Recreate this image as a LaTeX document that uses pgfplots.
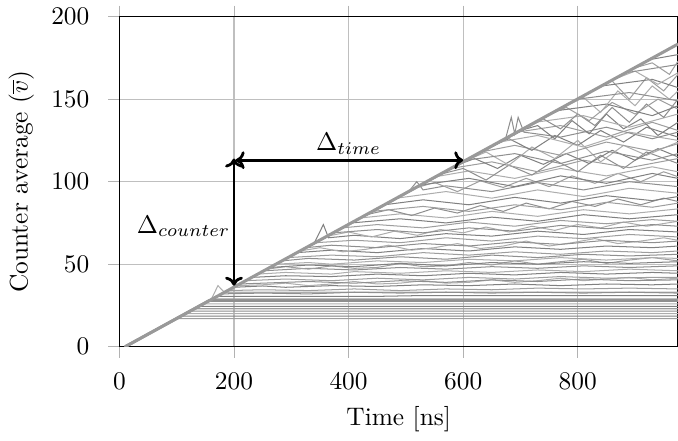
\documentclass[border=0pt]{standalone}
\usepackage{pgfplots}
\pgfplotsset{compat=1.18}
\usetikzlibrary{arrows.meta}
\begin{document}
\begin{tikzpicture}[trim axis right]
\begin{axis}[
  scale only axis,
  width=220pt, height=130pt,
  xmin=0, xmax=975, ymin=0, ymax=200,
  xtick={0,200,...,800}, ytick={0,50,...,200},
  grid=major,
  grid style={black!25, line width=0.4pt},
  tick align=outside,
  major tick length=4.3pt,
  tick style={black!30},
  xticklabel style={yshift=-2.5pt},
  yticklabel style={xshift=-4pt},
  axis line style={black, line width=0.5pt},
  xlabel={Time [ns]},
  ylabel={Counter average ($\overline{v}$)},
  no markers,
  cycle list={{black!38, line width=0.4pt},{black!50, line width=0.4pt},{black!32, line width=0.4pt},{black!44, line width=0.4pt}},
]
% low, almost flat counters
\addplot coordinates {(10,0)(99.5,17)(975,17)};
\addplot coordinates {(10,0)(107,18.5)(975,18.5)};
\addplot coordinates {(10,0)(115,20)(975,20)};
\addplot coordinates {(10,0)(123,21.5)(975,21.5)};
\addplot coordinates {(10,0)(131,23)(975,23)};
\addplot coordinates {(10,0)(139,24.5)(975,24.5)};
\addplot coordinates {(10,0)(147,26)(975,26)};
\addplot+[line width=1.1pt] coordinates {(10,0)(157,28)(975,28)};
\addplot coordinates {(10,0)(162.6,29)(975,29)};
\addplot coordinates {(10,0)(170,30.5)(450,30.5)(530,31)(975,31)};
\addplot coordinates {(10,0)(160,28.5)(172,37)(183,33)(975,33)};
% medium counters
\addplot coordinates {(10,0)(178,32)(250,32.5)(330,32)(410,33)(490,32.5)(570,33)(650,32.5)(730,33)(810,32.5)(890,33)(975,32.5)};
\addplot coordinates {(10,0)(189,34)(250,34.5)(330,34)(410,35)(490,34)(570,35)(650,34.5)(730,35.5)(810,35)(890,35.5)(975,35)};
\addplot coordinates {(10,0)(199,36)(250,36.8)(290,36)(370,37)(450,36.5)(530,37.5)(610,37)(690,38)(770,37)(850,38)(930,37.5)(975,38)};
\addplot coordinates {(10,0)(205,37)(250,37.5)(290,38.5)(330,37)(370,38)(410,39.5)(450,38)(490,38.5)(530,40)(570,38.5)(610,39)(650,40.5)(690,39)(730,40)(770,41.5)(810,40)(850,41)(890,42)(930,40.5)(975,41.5)};
\addplot coordinates {(10,0)(210,38)(250,38.5)(330,39.5)(410,38.5)(490,40)(570,39)(650,40.5)(730,39.5)(810,41)(890,40)(975,40.5)};
\addplot coordinates {(10,0)(220,40)(290,41)(370,40)(450,41.5)(530,40.5)(610,42)(690,41)(770,42.5)(850,41.5)(930,42)(975,42)};
\addplot coordinates {(10,0)(231,42)(290,43)(370,42.5)(450,44)(530,43)(610,44.5)(690,43.5)(770,45)(850,44)(930,45)(975,44.5)};
\addplot coordinates {(10,0)(241.5,44)(290,45)(370,44)(410,45.5)(490,44.5)(570,46)(650,45)(730,46.5)(810,45.5)(890,47)(975,46)};
\addplot coordinates {(10,0)(252,46)(330,47.5)(410,46.5)(490,48)(570,47)(650,48.5)(730,47.5)(810,49)(890,48)(975,49)};
\addplot coordinates {(10,0)(257,47)(290,48.5)(330,47)(370,49)(410,47.5)(450,48)(490,50.5)(530,48.5)(570,49)(610,51)(650,49.5)(690,52)(730,50)(770,51.5)(810,53)(850,50.5)(890,52.5)(930,54)(975,52)};
\addplot coordinates {(10,0)(262.6,48)(330,49.5)(410,48.5)(490,50.5)(570,49)(650,51)(730,50)(810,51.5)(890,50.5)(975,51.5)};
\addplot coordinates {(10,0)(273,50)(330,51)(370,50)(450,52)(530,51)(610,53)(690,52)(770,54)(850,52.5)(930,54)(975,53.5)};
\addplot coordinates {(10,0)(283.7,52)(330,53.5)(410,52.5)(490,54.5)(570,53)(650,55.5)(730,54)(810,56)(890,55)(975,56)};
\addplot coordinates {(10,0)(294,54)(370,55.5)(450,54.5)(530,57)(610,55.5)(690,57.5)(770,56)(850,58)(930,57)(975,58)};
\addplot coordinates {(10,0)(310,57)(370,58.5)(450,57)(530,59.5)(610,58)(690,60.5)(770,59)(850,61)(930,60)(975,61)};
\addplot coordinates {(10,0)(315,58)(350,60)(390,57.5)(430,59)(470,61.5)(510,58.5)(550,60)(590,62.5)(630,59.5)(670,61)(710,64)(750,61)(790,63)(830,65.5)(870,62.5)(910,64)(950,66)(975,64.5)};
\addplot coordinates {(10,0)(325.8,60)(370,61.5)(450,60)(530,62.5)(610,61)(690,63.5)(770,62)(850,64.5)(930,63)(975,64)};
\addplot coordinates {(10,0)(341.6,63)(410,64.5)(490,63)(570,66)(650,64)(730,67)(810,65.5)(890,68)(975,66.5)};
\addplot coordinates {(10,0)(340,62.7)(356,74)(365,66)(410,67.5)(490,65.5)(570,68.5)(650,67)(730,70)(810,68)(890,71)(975,69.5)};
\addplot coordinates {(10,0)(363,67)(400,69.5)(440,66.5)(480,70)(520,67.5)(560,71)(600,69)(640,72.5)(680,69.5)(720,73)(760,70.5)(800,74)(840,72)(880,75.5)(920,73)(975,76)};
\addplot coordinates {(10,0)(373,69)(450,71)(530,69)(610,72)(690,70)(770,73.5)(850,71.5)(930,74)(975,73)};
\addplot coordinates {(10,0)(389,72)(450,74)(530,72)(610,75.5)(690,73)(770,76.5)(850,74.5)(930,77)(975,76)};
% upper, noisier counters
\addplot coordinates {(10,0)(405,75)(490,77.5)(570,75)(650,78.5)(730,76)(810,80)(890,77.5)(975,80)};
\addplot coordinates {(10,0)(420.5,78)(490,80.5)(570,78)(650,82)(730,79)(810,83)(890,80.5)(975,83.5)};
\addplot coordinates {(10,0)(431,80)(470,83)(510,79.5)(550,84)(590,81)(630,85.5)(670,82)(710,87)(750,83.5)(790,88)(830,85)(870,89.5)(910,86)(950,90)(975,88)};
\addplot coordinates {(10,0)(441.6,82)(530,85)(610,82)(690,86)(770,83)(850,87.5)(930,84.5)(975,87)};
\addplot coordinates {(10,0)(462.6,86)(530,89)(610,86)(690,90.5)(770,87)(850,91.5)(930,88.5)(975,91)};
\addplot coordinates {(10,0)(483.7,90)(570,94)(650,90)(730,95)(810,91)(890,96)(975,93)};
\addplot coordinates {(10,0)(505,94)(519,100)(530,95)(570,97.5)(650,94)(730,99.5)(810,95)(890,100)(975,97)};
\addplot coordinates {(10,0)(515,96)(550,99.5)(590,94)(630,100.5)(670,96.5)(710,102)(750,97)(790,103.5)(830,99)(870,105)(910,100)(950,106)(975,103)};
\addplot coordinates {(10,0)(526,98)(610,102)(690,97)(770,103.5)(850,99)(930,105)(975,102)};
\addplot coordinates {(10,0)(552,103)(610,106.5)(690,102)(770,108)(850,103.5)(930,109)(975,106)};
\addplot coordinates {(10,0)(560,104.5)(600,108)(640,101)(680,110)(720,104)(760,113)(800,106)(840,116)(880,108)(920,118)(975,111)};
\addplot coordinates {(10,0)(578,108)(650,112)(730,106)(810,113)(890,108.5)(975,114)};
\addplot coordinates {(10,0)(589,110)(620,114)(660,108)(700,116)(740,110.5)(780,117)(820,111)(860,119)(900,113)(940,120)(975,115)};
\addplot coordinates {(10,0)(600,112)(640,118)(680,110)(720,121)(760,114)(800,125)(840,112)(880,122)(920,116)(975,124)};
\addplot coordinates {(10,0)(605,113)(690,117)(770,111)(850,118.5)(930,113)(975,117)};
\addplot coordinates {(10,0)(631,118)(690,122)(770,116)(850,124)(930,118.5)(975,123)};
\addplot coordinates {(10,0)(647,121)(680,126)(720,119)(760,128)(800,122)(840,131)(880,124)(920,133)(975,127)};
\addplot coordinates {(10,0)(663,124)(730,128)(810,121)(890,130)(975,125)};
\addplot coordinates {(10,0)(674,126)(684,139)(690,129)(696,139)(706,130)(770,127)(850,133)(930,126)(975,130)};
\addplot coordinates {(10,0)(694,130)(770,134)(850,127)(930,136)(975,131)};
\addplot coordinates {(10,0)(700,131)(730,134)(760,126)(790,137)(820,129)(850,141)(880,132)(910,138)(940,128)(975,136)};
\addplot coordinates {(10,0)(726,136)(810,140)(890,133)(975,141)};
\addplot coordinates {(10,0)(740,138)(770,132)(800,141)(830,134)(860,145)(890,136)(920,147)(950,139)(975,150)};
\addplot coordinates {(10,0)(747,140)(780,145)(820,137)(860,148)(900,141)(940,150)(975,144)};
\addplot coordinates {(10,0)(763,143)(850,147)(930,140)(975,146)};
\addplot coordinates {(10,0)(780,146)(810,151)(840,142)(870,155)(900,146)(930,158)(960,150)(975,155)};
\addplot coordinates {(10,0)(799.5,150)(890,154)(975,149)};
\addplot coordinates {(10,0)(830,156)(860,161)(890,150)(920,163)(950,155)(975,165)};
\addplot coordinates {(10,0)(842,158)(930,162)(975,157)};
\addplot coordinates {(10,0)(863,162)(900,167)(940,159)(975,166)};
\addplot coordinates {(10,0)(884,166)(975,171)};
\addplot coordinates {(10,0)(900,169)(930,172)(960,165)(975,173)};
\addplot coordinates {(10,0)(926,174)(975,177)};
% counters that never saturate
\addplot+[line width=1.2pt, black!40] coordinates {(10,0)(975,183.4)};
% annotations
\draw[{To[length=3.5pt,width=7pt]}-{To[length=3.5pt,width=7pt]}, line width=1.1pt, black]
  (axis cs:200,114) -- (axis cs:200,37);
\draw[{To[length=3.5pt,width=7pt]}-{To[length=3.5pt,width=7pt]}, line width=1.1pt, black]
  (axis cs:203,113) -- (axis cs:600,113);
\node at (axis cs:400,123) {$\Delta_{time}$};
\node at (axis cs:112,73) {$\Delta_{counter}$};
\end{axis}
\end{tikzpicture}
\end{document}
